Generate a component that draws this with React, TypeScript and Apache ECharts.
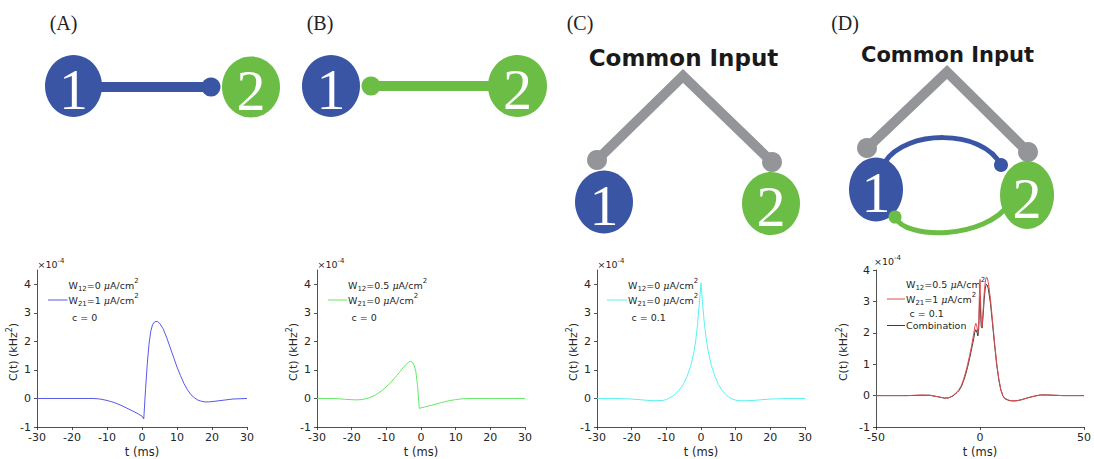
import React, { useEffect, useRef } from 'react';
import * as echarts from 'echarts';

// ---------------- data ----------------
const tA = [-30, -20, -14, -12, -10, -8, -6, -4, -2, -1, 0, 0.5, 1, 1.5, 2, 2.5, 3, 3.5, 4, 4.5, 5, 6, 7, 8, 9, 10, 11, 12, 13, 14, 15, 16, 17, 18, 19, 20, 22, 24, 26, 28, 30];
const cA = [0, 0, 0, -0.02, -0.07, -0.14, -0.24, -0.36, -0.48, -0.55, -0.62, -0.72, 0.3, 1.2, 1.9, 2.35, 2.58, 2.67, 2.7, 2.69, 2.64, 2.45, 2.15, 1.8, 1.45, 1.1, 0.8, 0.52, 0.3, 0.13, 0.02, -0.06, -0.1, -0.12, -0.12, -0.11, -0.08, -0.05, -0.02, -0.01, 0];

const tB = [-30, -25, -22, -19, -17, -15, -13, -11, -9, -7, -6, -5, -4, -3.5, -3, -2.5, -2, -1.5, -1, -0.5, 0, 1, 2, 4, 6, 8, 10, 12, 15, 20, 30];
const cB = [0, 0, -0.03, -0.05, -0.04, 0.02, 0.13, 0.3, 0.52, 0.8, 0.95, 1.1, 1.23, 1.28, 1.3, 1.27, 1.17, 0.95, 0.45, -0.35, -0.33, -0.3, -0.27, -0.21, -0.14, -0.08, -0.04, -0.01, 0, 0, 0];

const tC = [-30, -25, -20, -17, -15, -13, -11, -10, -9, -8, -7, -6, -5, -4, -3, -2, -1.5, -1, -0.5, 0, 0.5, 1, 1.5, 2, 3, 4, 5, 6, 7, 8, 9, 10, 11, 13, 15, 17, 20, 23, 25, 30];
const cC = [0, 0, -0.02, -0.05, -0.07, -0.08, -0.07, -0.04, 0.02, 0.1, 0.2, 0.34, 0.52, 0.78, 1.12, 1.65, 2.05, 2.6, 3.3, 4.05, 3.25, 2.6, 2.1, 1.7, 1.15, 0.78, 0.5, 0.3, 0.15, 0.05, -0.02, -0.06, -0.08, -0.08, -0.07, -0.05, -0.02, -0.01, 0, 0];

const tD = [-50, -35, -28, -24, -20, -17, -15, -13, -11, -10, -9, -8, -7, -6, -5, -4, -3, -2.5, -2, -1.5, -1, -0.6, -0.3, 0, 0.3, 0.6, 1, 1.5, 2, 2.5, 3, 3.5, 4, 5, 6, 7, 8, 9, 10, 11, 12, 14, 16, 18, 20, 23, 26, 29, 32, 36, 40, 50];
const cDred = [0, 0, 0.02, 0.01, -0.04, -0.08, -0.07, 0, 0.12, 0.2, 0.32, 0.5, 0.72, 0.98, 1.28, 1.6, 1.98, 2.2, 2.3, 2.2, 2.0, 2.3, 3.2, 3.7, 3.0, 2.35, 2.2, 2.7, 3.25, 3.6, 3.77, 3.75, 3.6, 3.1, 2.4, 1.7, 1.05, 0.55, 0.2, 0.0, -0.09, -0.15, -0.17, -0.16, -0.13, -0.07, -0.02, 0.02, 0.02, 0.01, 0, 0];
const cDcomb = [0, 0, 0.01, 0.01, -0.04, -0.08, -0.07, -0.01, 0.1, 0.17, 0.28, 0.45, 0.65, 0.9, 1.18, 1.5, 1.82, 2.02, 2.1, 2.02, 1.9, 2.15, 2.8, 3.15, 2.6, 2.2, 2.15, 2.55, 3.05, 3.4, 3.55, 3.52, 3.4, 2.95, 2.3, 1.62, 1.0, 0.52, 0.18, -0.01, -0.1, -0.16, -0.17, -0.16, -0.13, -0.07, -0.02, 0.02, 0.02, 0.01, 0, 0];

const panelLabels = ['(A)', '(B)', '(C)', '(D)'];
const w12Values = ['0', '0.5', '0', '0.5'];
const w21Values = ['1', '0', '0', '1'];
const cValues = ['0', '0', '0.1', '0.1'];
const yTicksABC = [-1, 0, 1, 2, 3, 4];
const yTicksD = [-1, 0, 1, 2, 3, 4];
const xTicksABC = [-30, -20, -10, 0, 10, 20, 30];
const xTicksD = [-50, 0, 50];

// ---------------- styles ----------------
const AX = '#262626';
const BLUE = '#3b55a5';
const GREEN = '#6bbd46';
const GRAY = '#949599';
const lineColors = ['#5858ee', '#66e866', '#5cf0f0', '#e04a4f', '#3c3c3c'];

const zip = (a: number[], b: number[]) => a.map((t, i) => [t, b[i]]);

const grids = [
  { left: 37, top: 270, width: 210, height: 157 },
  { left: 317, top: 270, width: 208, height: 157 },
  { left: 597, top: 270, width: 208, height: 157 },
  { left: 876, top: 270, width: 208, height: 157 },
];

const rich: any = {
  n: { fontSize: 9.5, fontFamily: 'DejaVu Sans', fill: AX, lineHeight: 15, verticalAlign: 'middle' },
  mu: { fontSize: 9.5, fontFamily: 'DejaVu Serif', fontStyle: 'italic', fill: AX, lineHeight: 15, verticalAlign: 'middle' },
  sub: { fontSize: 7, fontFamily: 'DejaVu Sans', fill: AX, lineHeight: 7, verticalAlign: 'bottom' },
  sup: { fontSize: 7, fontFamily: 'DejaVu Sans', fill: AX, lineHeight: 7, verticalAlign: 'top' },
  y: { fontSize: 11, fontFamily: 'DejaVu Sans', fill: AX, lineHeight: 16, verticalAlign: 'middle' },
  ysup: { fontSize: 8, fontFamily: 'DejaVu Sans', fill: AX, lineHeight: 8, verticalAlign: 'top' },
};

function txt(x: number, y: number, text: string, extra: any = {}) {
  return { type: 'text', x, y, silent: true, style: { text, rich, align: 'left', verticalAlign: 'middle', ...extra } };
}
function seg(x1: number, y1: number, x2: number, y2: number, stroke: string, lineWidth: number, cap = 'butt') {
  return { type: 'line', silent: true, shape: { x1, y1, x2, y2 }, style: { stroke, lineWidth, lineCap: cap } };
}
function dot(cx: number, cy: number, r: number, fill: string) {
  return { type: 'circle', silent: true, shape: { cx, cy, r }, style: { fill } };
}
function node(cx: number, cy: number, rx: number, ry: number, fill: string, label: string) {
  return [
    { type: 'ellipse', silent: true, shape: { cx, cy, rx, ry }, style: { fill } },
    { type: 'text', silent: true, x: cx, y: cy + 3, style: { text: label, fill: '#ffffff', font: '58px "Liberation Serif"', align: 'center', verticalAlign: 'middle' } },
  ];
}

function legend(i: number, x: number, yTop: number, sampleX1: number, color: string, extraComb = false) {
  const els: any[] = [];
  els.push(txt(x, yTop, `{n|W}{sub|12}{n|=${w12Values[i]} }{mu|μ}{n|A/cm}{sup|2}`));
  els.push(txt(x, yTop + 15, `{n|W}{sub|21}{n|=${w21Values[i]} }{mu|μ}{n|A/cm}{sup|2}`));
  els.push(seg(sampleX1, yTop + 15, x - 1, yTop + 15, color, 1));
  els.push(txt(x + 3.5, yTop + (extraComb ? 29.5 : 32), `{n|c = ${cValues[i]}}`));
  if (extraComb) {
    els.push(txt(x, yTop + 41.5, `{n|Combination}`));
    els.push(seg(sampleX1, yTop + 41.5, x - 1, yTop + 41.5, lineColors[4], 1));
  }
  return els;
}

export default function App() {
  const ref = useRef<HTMLDivElement>(null);
  useEffect(() => {
    if (!ref.current) return;
    const chart = echarts.init(ref.current, undefined, { renderer: 'svg' });

    const xAxes = grids.map((g, i) => ({
      type: 'value',
      gridIndex: i,
      min: i === 3 ? -50 : -30,
      max: i === 3 ? 50 : 30,
      interval: i === 3 ? 50 : 10,
      name: 't (ms)',
      nameLocation: 'middle',
      nameGap: 19,
      nameTextStyle: { fontSize: 11.5, color: AX, fontFamily: 'DejaVu Sans', verticalAlign: 'top' },
      splitLine: { show: false },
      axisLine: { show: true, onZero: false, lineStyle: { color: AX, width: 0.8 } },
      axisTick: { show: true, inside: false, length: 3, lineStyle: { color: AX, width: 0.8 }, customValues: i === 3 ? xTicksD : xTicksABC },
      axisLabel: { fontSize: 11, color: AX, fontFamily: 'DejaVu Sans', margin: 5, customValues: i === 3 ? xTicksD : xTicksABC },
    }));
    const yAxes = grids.map((g, i) => ({
      type: 'value',
      gridIndex: i,
      min: -1,
      max: i === 3 ? 4 : 4.5,
      interval: 1,
      splitLine: { show: false },
      axisLine: { show: true, onZero: false, lineStyle: { color: AX, width: 0.8 } },
      axisTick: { show: true, inside: false, length: 3, lineStyle: { color: AX, width: 0.8 }, customValues: i === 3 ? yTicksD : yTicksABC },
      axisLabel: { fontSize: 11, color: AX, fontFamily: 'DejaVu Sans', margin: 6, customValues: i === 3 ? yTicksD : yTicksABC },
    }));

    const mk = (idx: number, data: number[][], color: string, z = 2) => ({
      type: 'line', xAxisIndex: idx, yAxisIndex: idx, data, showSymbol: false, symbol: 'none', silent: true, z,
      lineStyle: { color, width: 1 }, smooth: false,
    });

    const elements: any[] = [];
    // panel labels
    const labelX = [63.5, 320, 580, 845];
    panelLabels.forEach((l, i) => {
      elements.push({ type: 'text', silent: true, x: labelX[i], y: 23, style: { text: l, fill: '#222', font: '20px "Liberation Serif"', align: 'center', verticalAlign: 'middle' } });
    });

    // ---- diagram A
    elements.push(seg(85, 87, 211, 87, BLUE, 10));
    elements.push(...node(73.5, 86, 28.5, 31, BLUE, '1'));
    elements.push(...node(251, 87, 29, 30.5, GREEN, '2'));
    elements.push(dot(211, 87, 9.5, BLUE));
    // ---- diagram B
    elements.push(seg(371, 86, 500, 86, GREEN, 10));
    elements.push(...node(331, 86, 29, 31, BLUE, '1'));
    elements.push(...node(517.5, 86, 29.5, 31, GREEN, '2'));
    elements.push(dot(371, 86, 9.5, GREEN));
    // ---- diagram C
    elements.push({ type: 'text', silent: true, x: 683.5, y: 58, style: { text: 'Common Input', fill: '#1a1a1a', font: 'bold 23px "DejaVu Sans"', align: 'center', verticalAlign: 'middle' } });
    elements.push({ type: 'polyline', silent: true, shape: { points: [[597, 160], [683, 76], [772, 162]] }, style: { stroke: GRAY, lineWidth: 10, fill: 'none', lineJoin: 'miter' } });
    elements.push(...node(604, 202, 29, 31.5, BLUE, '1'));
    elements.push(...node(771, 203.5, 29, 31.5, GREEN, '2'));
    elements.push(dot(597, 160, 10, GRAY));
    elements.push(dot(772, 162, 10, GRAY));
    // ---- diagram D
    elements.push({ type: 'text', silent: true, x: 947.5, y: 55, style: { text: 'Common Input', fill: '#1a1a1a', font: 'bold 21px "DejaVu Sans"', align: 'center', verticalAlign: 'middle' } });
    elements.push({ type: 'polyline', silent: true, shape: { points: [[867, 148], [947, 72], [1028, 152]] }, style: { stroke: GRAY, lineWidth: 10, fill: 'none', lineJoin: 'miter' } });
    elements.push({ type: 'bezierCurve', silent: true, shape: { x1: 885, y1: 162, cpx1: 905, cpy1: 130, cpx2: 982, cpy2: 128, x2: 1001, y2: 165 }, style: { stroke: BLUE, lineWidth: 5, fill: 'none' } });
    elements.push({ type: 'bezierCurve', silent: true, shape: { x1: 895, y1: 217, cpx1: 905, cpy1: 240, cpx2: 985, cpy2: 240, x2: 1010, y2: 203 }, style: { stroke: GREEN, lineWidth: 5, fill: 'none' } });
    elements.push(...node(876, 189.5, 27, 32, BLUE, '1'));
    elements.push(...node(1027, 195, 27, 34, GREEN, '2'));
    elements.push(dot(867, 148, 10, GRAY));
    elements.push(dot(1028, 152, 10, GRAY));
    elements.push(dot(1001, 165, 7, BLUE));
    elements.push(dot(895, 217, 6.5, GREEN));

    // ---- axis decorations: x10^-4 and y names
    const expX = [37.5, 317.5, 597.5, 874];
    const expY = [264.5, 264.5, 264.5, 261.5];
    const yNameX = [13.5, 293, 573, 843];
    grids.forEach((g, i) => {
      elements.push(txt(expX[i], expY[i], '{n|×10}{sup|-4}', { }));
      elements.push({ type: 'text', silent: true, x: yNameX[i], y: 352, rotation: Math.PI / 2, style: { text: '{y|C(t) (kHz}{ysup|2}{y|)}', rich, align: 'center', verticalAlign: 'middle' } });
    });

    // ---- legends
    elements.push(...legend(0, 68.5, 285, 48, lineColors[0]));
    elements.push(...legend(1, 348, 285, 328, lineColors[1]));
    elements.push(...legend(2, 628, 285, 607, lineColors[2]));
    elements.push(...legend(3, 906, 284, 887, lineColors[3], true));

    chart.setOption({
      animation: false,
      backgroundColor: '#ffffff',
      grid: grids,
      xAxis: xAxes,
      yAxis: yAxes,
      series: [
        mk(0, zip(tA, cA), lineColors[0]),
        mk(1, zip(tB, cB), lineColors[1]),
        mk(2, zip(tC, cC), lineColors[2]),
        mk(3, zip(tD, cDcomb), lineColors[4], 2),
        mk(3, zip(tD, cDred), lineColors[3], 3),
      ],
      graphic: { elements },
    });
    return () => chart.dispose();
  }, []);
  return <div ref={ref} style={{ position: 'fixed', left: 0, top: 0, width: 1094, height: 459, background: '#fff' }} />;
}
